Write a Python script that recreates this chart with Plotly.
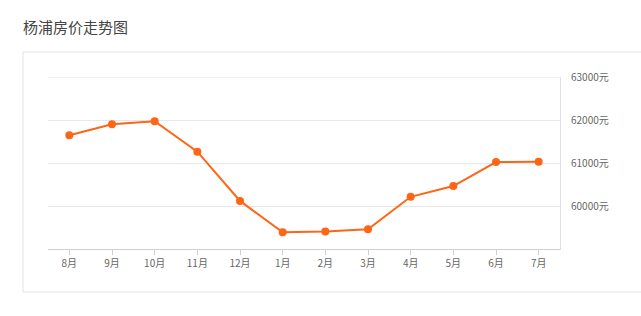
import plotly.graph_objects as go

months = ["8月", "9月", "10月", "11月", "12月", "1月", "2月", "3月", "4月", "5月", "6月", "7月"]
prices = [61650, 61905, 61975, 61265, 60120, 59390, 59410, 59460, 60215, 60465, 61025, 61030]
ytick_vals = [60000, 61000, 62000, 63000]
ytick_text = [f"{v}元" for v in ytick_vals]
title_text = "杨浦房价走势图"

FONT = "Noto Sans CJK SC, Microsoft YaHei, sans-serif"

fig = go.Figure()
fig.add_trace(go.Scatter(
    x=months, y=prices, mode="lines+markers",
    line=dict(color="#ff6514", width=2),
    marker=dict(color="#ff6514", size=8),
    hoverinfo="x+y",
))

fig.update_layout(
    width=641, height=316,
    margin=dict(l=48, r=81, t=77, b=67),
    paper_bgcolor="white", plot_bgcolor="white",
    showlegend=False,
    font=dict(family=FONT, size=10, color="#666"),
    shapes=[
        dict(type="rect", xref="paper", yref="paper",
             x0=-25 / 512, x1=600 / 512, y0=-43 / 172, y1=(249 - 52) / 172,
             line=dict(color="#e3e3e3", width=1), fillcolor="rgba(0,0,0,0)",
             layer="below"),
        dict(type="line", xref="paper", yref="y", x0=0, x1=1,
             y0=ytick_vals[-1], y1=ytick_vals[-1],
             line=dict(color="#e8e8e8", width=1), layer="below"),
    ],
    annotations=[dict(text=title_text, xref="paper", yref="paper",
                      x=-27 / 512, y=(249 - 27) / 172, xanchor="left", yanchor="middle",
                      showarrow=False, font=dict(family=FONT, size=15, color="#444"))],
)
fig.update_xaxes(
    type="category", range=[-0.5, len(months) - 0.5],
    showgrid=False, showline=True, linecolor="#d0d0d0", linewidth=1,
    ticks="outside", ticklen=5, tickcolor="#d0d0d0",
    tickfont=dict(size=10, color="#666"), fixedrange=True,
)
fig.update_yaxes(
    side="right", range=[59000, 63004], tickvals=ytick_vals, ticktext=ytick_text,
    showgrid=True, gridcolor="#e8e8e8", gridwidth=1, zeroline=False,
    showline=True, linecolor="#e0e0e0", mirror=False,
    ticks="", ticklabelstandoff=8,
    tickfont=dict(size=10, color="#666"), fixedrange=True,
)

fig.write_html("out.html")
